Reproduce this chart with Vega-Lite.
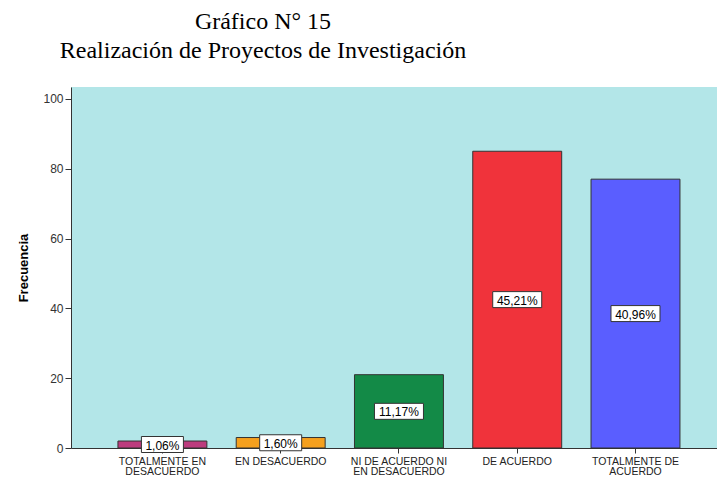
{
  "$schema": "https://vega.github.io/schema/vega-lite/v6.json",
  "autosize": {"type": "none"},
  "width": 646,
  "height": 361,
  "padding": {"left": 71, "top": 87, "right": 0, "bottom": 29},
  "background": "white",
  "title": {
    "text": ["Gráfico N° 15", "Realización de Proyectos de Investigación"],
    "font": "Liberation Serif",
    "fontSize": 24,
    "fontWeight": "normal",
    "color": "black",
    "lineHeight": 29,
    "anchor": "middle",
    "frame": "group",
    "dx": -131,
    "dy": 24,
    "baseline": "bottom",
    "offset": 24
  },
  "config": {
    "view": {"fill": "#B3E6E8", "stroke": null},
    "axis": {"labelFont": "Liberation Sans", "titleFont": "Liberation Sans", "domainColor": "#333", "tickColor": "#333", "grid": false}
  },
  "data": {
    "values": [
      {"categoria": "TOTALMENTE EN DESACUERDO", "frecuencia": 2, "porcentaje": "1,06%"},
      {"categoria": "EN DESACUERDO", "frecuencia": 3, "porcentaje": "1,60%"},
      {"categoria": "NI DE ACUERDO NI EN DESACUERDO", "frecuencia": 21, "porcentaje": "11,17%"},
      {"categoria": "DE ACUERDO", "frecuencia": 85, "porcentaje": "45,21%"},
      {"categoria": "TOTALMENTE DE ACUERDO", "frecuencia": 77, "porcentaje": "40,96%"}
    ]
  },
  "transform": [{"calculate": "datum.frecuencia / 2", "as": "mitad"}],
  "encoding": {
    "x": {
      "field": "categoria",
      "type": "nominal",
      "sort": null,
      "scale": {"paddingInner": 0.248, "paddingOuter": 0.355, "align": 0.559},
      "axis": {
        "title": null,
        "labelAngle": 0,
        "labelFontSize": 10.5,
        "labelColor": "#222",
        "labelLineHeight": 10,
        "labelPadding": 3,
        "tickSize": 5,
        "labelExpr": "datum.value == 'TOTALMENTE EN DESACUERDO' ? ['TOTALMENTE EN', 'DESACUERDO'] : datum.value == 'NI DE ACUERDO NI EN DESACUERDO' ? ['NI DE ACUERDO NI', 'EN DESACUERDO'] : datum.value == 'TOTALMENTE DE ACUERDO' ? ['TOTALMENTE DE', 'ACUERDO'] : datum.value"
      }
    }
  },
  "layer": [
    {
      "mark": {"type": "bar", "stroke": "#333", "strokeWidth": 1},
      "encoding": {
        "y": {
          "field": "frecuencia",
          "type": "quantitative",
          "scale": {"domain": [0, 103.4], "nice": false},
          "axis": {
            "title": "Frecuencia",
            "titleFontSize": 13,
            "titleFontWeight": "bold",
            "titleColor": "black",
            "titlePadding": 12,
            "values": [0, 20, 40, 60, 80, 100],
            "labelFontSize": 12,
            "labelColor": "#333",
            "tickSize": 6,
            "labelPadding": 2
          }
        },
        "color": {
          "field": "categoria",
          "type": "nominal",
          "sort": null,
          "scale": {
            "domain": ["TOTALMENTE EN DESACUERDO", "EN DESACUERDO", "NI DE ACUERDO NI EN DESACUERDO", "DE ACUERDO", "TOTALMENTE DE ACUERDO"],
            "range": ["#BC3C7E", "#F5A01E", "#138A47", "#F0333B", "#5A5EFF"]
          },
          "legend": null
        }
      }
    },
    {
      "mark": {"type": "point", "filled": true, "fill": "white", "stroke": "#333", "strokeWidth": 1, "opacity": 1, "size": 2500},
      "encoding": {
        "y": {"field": "mitad", "type": "quantitative"},
        "shape": {
          "condition": {"test": "length(datum.porcentaje) < 6", "value": "M-0.84,-0.32H0.84V0.32H-0.84Z"},
          "value": "M-0.98,-0.32H0.98V0.32H-0.98Z"
        }
      }
    },
    {
      "mark": {"type": "text", "font": "Liberation Sans", "fontSize": 12, "color": "black", "baseline": "middle", "dy": 1},
      "encoding": {
        "y": {"field": "mitad", "type": "quantitative"},
        "text": {"field": "porcentaje"}
      }
    }
  ]
}
